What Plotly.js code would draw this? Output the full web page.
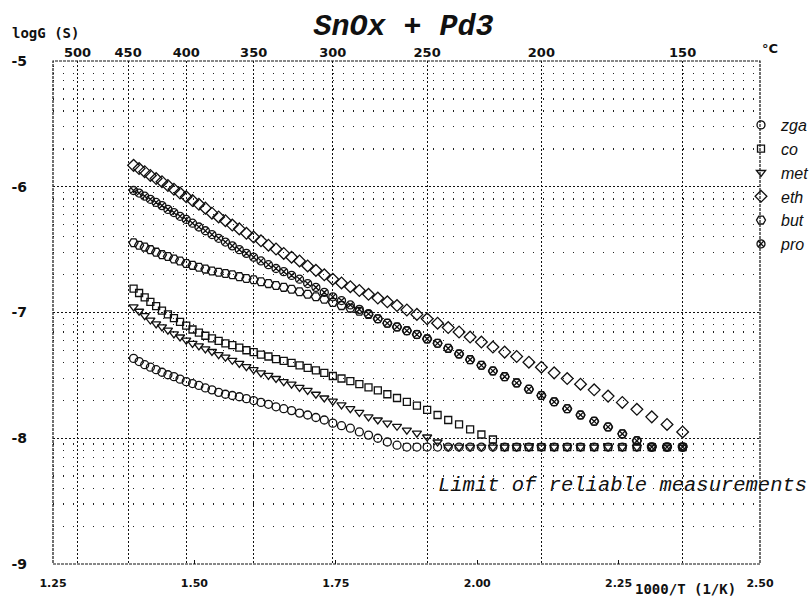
<!DOCTYPE html>
<html><head><meta charset="utf-8">
<script src="https://cdn.plot.ly/plotly-3.0.1.min.js"></script>
<style>html,body{margin:0;padding:0;background:#fff;overflow:hidden}#chart{width:812px;height:600px}</style>
</head><body><div id="chart"></div>
<script>
// Measurement temperatures (°C), 1000/T is the plotted quantity
const tempC = [445,440,435,430,425,420,415,410,405,400,395,390,385,380,375,370,365,360,355,350,
  345,340,335,330,325,320,315,310,305,300,295,290,285,280,275,270,265,260,255,250,
  245,240,235,230,225,220,215,210,205,200,195,190,185,180,175,170,165,160,155,150];

const zga = [-7.365,-7.39,-7.415,-7.435,-7.455,-7.475,-7.495,-7.51,-7.53,-7.55,
  -7.565,-7.58,-7.60,-7.615,-7.635,-7.65,-7.66,-7.67,-7.685,-7.70,
  -7.715,-7.73,-7.75,-7.765,-7.78,-7.80,-7.815,-7.835,-7.855,-7.88,
  -7.90,-7.92,-7.95,-7.975,-8.00,-8.03,-8.055,-8.07,-8.07,-8.07,
  -8.07,-8.07,-8.07,-8.07,-8.07,-8.07,-8.07,-8.07,-8.07,-8.07,
  -8.07,-8.07,-8.07,-8.07,-8.07,-8.07,-8.07,-8.07,-8.07,-8.07];
const co = [-6.81,-6.845,-6.88,-6.915,-6.95,-6.985,-7.015,-7.045,-7.075,-7.105,
  -7.135,-7.16,-7.185,-7.205,-7.225,-7.245,-7.26,-7.28,-7.30,-7.315,
  -7.335,-7.35,-7.37,-7.385,-7.40,-7.42,-7.44,-7.46,-7.48,-7.505,
  -7.525,-7.545,-7.57,-7.595,-7.62,-7.65,-7.68,-7.71,-7.74,-7.775,
  -7.815,-7.855,-7.89,-7.93,-7.97,-8.01,-8.07,-8.07,-8.07,-8.07,
  -8.07,-8.07,-8.07,-8.07,-8.07,-8.07,-8.07,-8.07,-8.07,-8.07];
const met = [-6.955,-6.99,-7.025,-7.06,-7.09,-7.115,-7.14,-7.17,-7.195,-7.22,
  -7.245,-7.265,-7.29,-7.31,-7.335,-7.355,-7.38,-7.405,-7.43,-7.455,
  -7.48,-7.50,-7.525,-7.55,-7.57,-7.595,-7.62,-7.65,-7.68,-7.705,
  -7.735,-7.765,-7.795,-7.83,-7.855,-7.88,-7.905,-7.935,-7.96,-7.99,
  -8.03,-8.07,-8.07,-8.07,-8.07,-8.07,-8.07,-8.07,-8.07,-8.07,
  -8.07,-8.07,-8.07,-8.07,-8.07,-8.07,-8.07,-8.07,-8.07,-8.07];
const eth = [-5.83,-5.855,-5.88,-5.91,-5.935,-5.96,-5.99,-6.02,-6.05,-6.08,
  -6.11,-6.14,-6.17,-6.21,-6.24,-6.27,-6.305,-6.335,-6.37,-6.40,
  -6.43,-6.465,-6.495,-6.53,-6.56,-6.59,-6.63,-6.665,-6.70,-6.735,
  -6.765,-6.795,-6.825,-6.855,-6.885,-6.915,-6.945,-6.98,-7.015,-7.05,
  -7.085,-7.12,-7.155,-7.195,-7.235,-7.275,-7.315,-7.35,-7.395,-7.435,
  -7.48,-7.525,-7.57,-7.615,-7.665,-7.715,-7.77,-7.83,-7.89,-7.95];
const but = [-6.445,-6.465,-6.48,-6.50,-6.52,-6.54,-6.555,-6.575,-6.59,-6.61,
  -6.625,-6.64,-6.655,-6.67,-6.68,-6.69,-6.70,-6.715,-6.73,-6.74,
  -6.755,-6.77,-6.785,-6.80,-6.815,-6.835,-6.855,-6.875,-6.895,-6.92,
  -6.945,-6.965,-6.99,-7.015,-7.05,-7.085,-7.115,-7.145,-7.175,-7.21,
  -7.245,-7.285,-7.33,-7.375,-7.42,-7.465,-7.51,-7.56,-7.61,-7.66,
  -7.71,-7.765,-7.815,-7.865,-7.91,-7.965,-8.02,-8.07,-8.07,-8.07];
const pro = [-6.03,-6.05,-6.075,-6.10,-6.125,-6.15,-6.18,-6.205,-6.235,-6.26,
  -6.29,-6.32,-6.35,-6.38,-6.41,-6.44,-6.47,-6.50,-6.53,-6.56,
  -6.59,-6.62,-6.65,-6.675,-6.705,-6.735,-6.77,-6.80,-6.84,-6.875,
  -6.905,-6.94,-6.975,-7.01,-7.05,-7.085,-7.115,-7.145,-7.175,-7.21,
  -7.245,-7.285,-7.33,-7.375,-7.42,-7.465,-7.51,-7.56,-7.61,-7.66,
  -7.71,-7.765,-7.815,-7.865,-7.91,-7.965,-8.02,-8.07,-8.07,-8.07];

const seriesNames = ['zga','co','met','eth','but','pro'];
const seriesSymbols = ['circle-open','square-open','triangle-down-open','diamond-open','hexagon2-open','circle-x-open'];
const seriesSizes = [8,7,8,9,9,8];
const seriesAxes = ['x','x','x','x2','x2','x2'];

const topTempLabels = [500,450,400,350,300,250,200,150];
const bottomTicks = [1.25,1.50,1.75,2.00,2.25,2.50];
const bottomTickText = ['1.25','1.50','1.75','2.00','2.25','2.50'];
const yTicks = [-9,-8,-7,-6,-5];
const yTickText = ['-9','-8','-7','-6','-5'];
const decades = [-9,-8,-7,-6];
const minorMult = [2,3,4,5,6,7,8,9];

const invT = tempC.map(t => 1000/(t+273.15));
const dataSets = [zga,co,met,eth,but,pro];

const traces = dataSets.map((ys,i)=>({
  type:'scatter', mode:'markers', name:seriesNames[i],
  x: invT, y: ys, xaxis: seriesAxes[i], yaxis:'y',
  marker:{symbol:seriesSymbols[i], size:seriesSizes[i], color:'#111', line:{width:1.3,color:'#111'}}
}));

const minorVals = [];
decades.forEach(d => minorMult.forEach(m => minorVals.push(d+Math.log10(m))));

const L=53, R=760, T=61, B=564;
const px = v => (v-L)/(R-L);
const py = v => 1-(v-T)/(B-T);

const layout = {
  width:812, height:600,
  margin:{l:L, r:812-R, t:T, b:600-B, autoexpand:false},
  paper_bgcolor:'#fff', plot_bgcolor:'#fff',
  showlegend:true,
  title:{text:'SnOx + Pd3', font:{family:'Liberation Mono, Courier New, monospace', size:30, style:'italic', weight:'bold', color:'#111'},
    x:0.497, xanchor:'center', y:1-24/600, yanchor:'middle'},
  xaxis:{range:[1.25,2.5], tickmode:'array', tickvals:bottomTicks, ticktext:bottomTickText,
    ticks:'inside', ticklen:4, tickcolor:'#111', showgrid:false, zeroline:false, showline:false,
    tickfont:{family:'DejaVu Sans', size:11, weight:'bold', color:'#111'}, ticklabelstandoff:11},
  xaxis2:{range:[1.25,2.5], overlaying:'x', side:'top', anchor:'y', tickmode:'array',
    tickvals: topTempLabels.map(t=>1000/(t+273.15)), ticktext: topTempLabels.map(String),
    ticks:'', showgrid:true, gridcolor:'#111', gridwidth:1, griddash:'2px,2px', zeroline:false, showline:false,
    tickfont:{family:'DejaVu Sans', size:13, weight:'bold', color:'#111'}, ticklabelstandoff:0},
  yaxis:{range:[-9,-5], tickmode:'array', tickvals:yTicks, ticktext:yTickText, ticks:'',
    showgrid:true, gridcolor:'#111', gridwidth:1, griddash:'2px,2px', zeroline:false, showline:false,
    tickfont:{family:'DejaVu Sans', size:14, weight:'bold', color:'#111'}, ticklabelstandoff:25,
    minor:{tickmode:'array', tickvals:minorVals, showgrid:true, gridcolor:'#222', gridwidth:1.3, griddash:'1px,9px', ticks:''}},
  legend:{x:px(741), xanchor:'left', y:py(108), yanchor:'top', bgcolor:'rgba(0,0,0,0)', borderwidth:0,
    font:{family:'Liberation Sans, Arial, sans-serif', size:16, style:'italic', color:'#111'}, tracegroupgap:0},
  shapes:[{type:'rect', xref:'paper', yref:'paper', x0:0, x1:1, y0:0, y1:1, line:{color:'#111', width:1.2, dash:'3px,1px'}}],
  annotations:[
    {text:'logG (S)', xref:'paper', yref:'paper', x:px(10), y:py(33), xanchor:'left', yanchor:'middle', showarrow:false,
      font:{family:'DejaVu Sans Mono', size:14, weight:'bold', color:'#111'}},
    {text:'°C', xref:'paper', yref:'paper', x:px(770), y:py(49), xanchor:'center', yanchor:'middle', showarrow:false,
      font:{family:'DejaVu Sans', size:13, weight:'bold', color:'#111'}},
    {text:'1000/T (1/K)', xref:'paper', yref:'paper', x:px(633), y:py(589), xanchor:'left', yanchor:'middle', showarrow:false,
      font:{family:'DejaVu Sans Mono', size:14, weight:'bold', color:'#111'}},
    {text:'Limit of reliable measurements', xref:'paper', yref:'paper', x:px(436), y:py(485), xanchor:'left', yanchor:'middle', showarrow:false,
      font:{family:'Liberation Mono, Courier New, monospace', size:20.5, style:'italic', color:'#111'}}
  ]
};
Plotly.newPlot('chart', traces, layout, {displayModeBar:false, staticPlot:true});
</script></body></html>
